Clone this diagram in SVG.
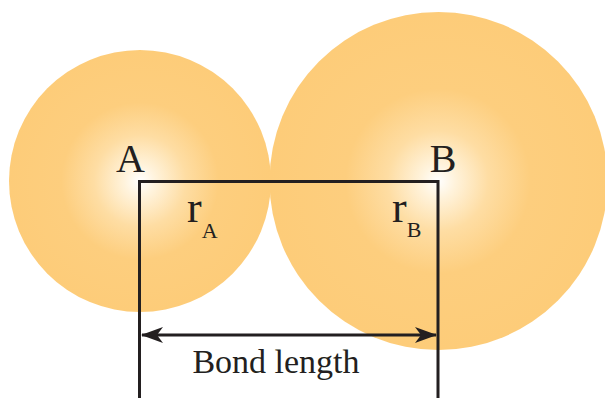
<svg xmlns="http://www.w3.org/2000/svg" width="605" height="398" viewBox="0 0 605 398">
<style>
.ln{stroke:#231f20;stroke-width:3;fill:none}
.t{font-family:"Liberation Serif",serif;fill:#231f20}
</style>
<defs>
<radialGradient id="gA" cx="140" cy="181" r="131" gradientUnits="userSpaceOnUse">
<stop offset="0" stop-color="#ffffff"/>
<stop offset="0.12" stop-color="#fff3dc"/>
<stop offset="0.35" stop-color="#fedda3"/>
<stop offset="0.6" stop-color="#fdce7e"/>
<stop offset="1" stop-color="#fdcc79"/>
</radialGradient>
<radialGradient id="gB" cx="438" cy="181" r="168" gradientUnits="userSpaceOnUse">
<stop offset="0" stop-color="#ffffff"/>
<stop offset="0.1" stop-color="#fff3dc"/>
<stop offset="0.3" stop-color="#fedda3"/>
<stop offset="0.55" stop-color="#fdce7e"/>
<stop offset="1" stop-color="#fdcc79"/>
</radialGradient>
<marker id="ah" viewBox="0 0 22 16" refX="21" refY="8" markerWidth="22" markerHeight="16" markerUnits="userSpaceOnUse" orient="auto-start-reverse">
<path d="M0,0 L22,8 L0,16 L6,8 Z" fill="#231f20"/>
</marker>
</defs>
<g id="atomA">
<circle cx="140" cy="181" r="131" fill="url(#gA)"/>
</g>
<g id="atomB">
<circle cx="438.5" cy="181" r="169" fill="url(#gB)"/>
</g>
<g id="connectors">
<path class="ln" d="M139.5,398 V181.5 H438 V398"/>
<line class="ln" x1="142" y1="335" x2="436" y2="335" marker-start="url(#ah)" marker-end="url(#ah)"/>
</g>
<g id="labels">
<text class="t" x="130.5" y="172" font-size="40" text-anchor="middle">A</text>
<text class="t" x="443" y="172" font-size="40" text-anchor="middle">B</text>
<text class="t" x="187" y="222" font-size="44">r<tspan font-size="22" dy="16">A</tspan></text>
<text class="t" x="392" y="222" font-size="44">r<tspan font-size="22" dy="15">B</tspan></text>
<text class="t" x="276" y="373" font-size="34" text-anchor="middle">Bond length</text>
</g>
</svg>
